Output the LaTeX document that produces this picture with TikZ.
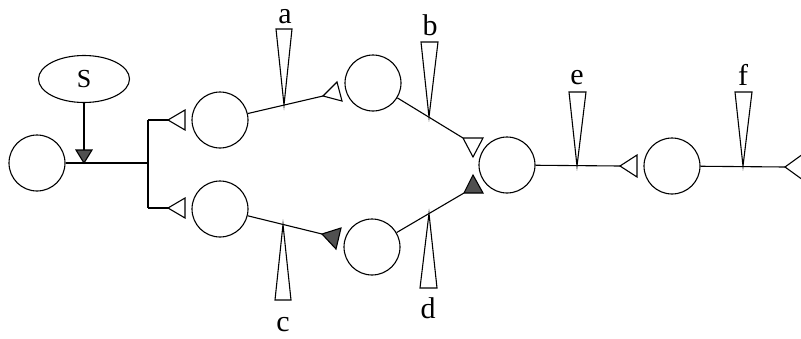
\documentclass[tikz,border=0pt]{standalone}
\usepackage{fontspec}
\setmainfont{Liberation Serif}
\usetikzlibrary{shapes.geometric}
\definecolor{tfill}{HTML}{505050}
\begin{document}
\begin{tikzpicture}[x=1pt,y=-1pt,line width=1.1pt,
  unit/.style={circle,draw,minimum size=56pt,inner sep=0pt},
  src/.style={ellipse,draw,minimum width=91pt,minimum height=47pt,inner sep=0pt,font=\fontsize{26}{26}\selectfont},
  lbl/.style={anchor=base,inner sep=0pt,font=\fontsize{30}{30}\selectfont},
  wedge/.style={draw,fill=white,line join=miter},
  otri/.style={draw,fill=white,line join=miter},
  ftri/.style={draw,fill=tfill,line join=miter}]
\useasboundingbox (0,0) rectangle (801,338);
% units
\node[unit] (C0) at (37,163) {};
\node[unit] (C1) at (220,120) {};
\node[unit] (C2) at (373,83) {};
\node[unit] (C3) at (220,209) {};
\node[unit] (C4) at (372,247) {};
\node[unit] (C5) at (507,165) {};
\node[unit] (C6) at (672,166) {};
\node[src] (S) at (84,79) {S};
% coordinates
\coordinate (J) at (148,163);
\coordinate (Jt) at (148,120);
\coordinate (Jb) at (148,208);
\coordinate (T0a) at (168,120);
\coordinate (T0b) at (168,208);
\coordinate (Ss) at (84,150);
\coordinate (Sd) at (84,163);
\coordinate (T1) at (323,96);
\coordinate (T3) at (322,234);
\coordinate (T2) at (463,138);
\coordinate (T4) at (464,193);
\coordinate (T5) at (620,166);
\coordinate (T6) at (785,167);
\coordinate (Wa) at (284,105);
\coordinate (Wc) at (283,224.5);
\coordinate (Wb) at (429,117);
\coordinate (Wd) at (429,213.5);
\coordinate (We) at (577,166);
\coordinate (Wf) at (743,166);
% connectors
\draw (C0) -- (J);
\draw (Jt) -- (Jb);
\draw (Jt) -- (T0a);
\draw (Jb) -- (T0b);
\draw (S) -- (Ss);
\draw (C1) -- (T1);
\draw (C3) -- (T3);
\draw (C2) -- (T2);
\draw (C4) -- (T4);
\draw (C5) -- (T5);
\draw (C6) -- (T6);
% triangles
\draw[otri] (T0a) -- (185,110) -- (185,130) -- cycle;
\draw[otri] (T0b) -- (185,198) -- (185,218) -- cycle;
\draw[ftri] (Ss) -- (92,150) -- (Sd) -- (76,150) -- cycle;
\draw[otri] (T1) -- (337,82) -- (342,101) -- cycle;
\draw[ftri] (T3) -- (341,228) -- (336,249) -- cycle;
\draw[otri] (T2) -- (483,138) -- (473,157) -- cycle;
\draw[ftri] (T4) -- (483,193) -- (473,175) -- cycle;
\draw[otri] (T5) -- (637,155) -- (637,177) -- cycle;
\draw[otri] (T6) -- (803,154) -- (803,180) -- cycle;
% wedges
\draw[wedge] (Wa) -- (276,29) -- (292,29) -- cycle;
\draw[wedge] (Wc) -- (275,300) -- (291,300) -- cycle;
\draw[wedge] (Wb) -- (421,42) -- (438,42) -- cycle;
\draw[wedge] (Wd) -- (420,288) -- (437,288) -- cycle;
\draw[wedge] (We) -- (569,92) -- (586,92) -- cycle;
\draw[wedge] (Wf) -- (735,92) -- (752,92) -- cycle;
% labels
\node[lbl] (La) at (285,23) {a};
\node[lbl] (Lb) at (430,35) {b};
\node[lbl] (Lc) at (283,331) {c};
\node[lbl] (Ld) at (428,318) {d};
\node[lbl] (Le) at (577,84) {e};
\node[lbl] (Lf) at (743,85) {f};
\end{tikzpicture}
\end{document}
